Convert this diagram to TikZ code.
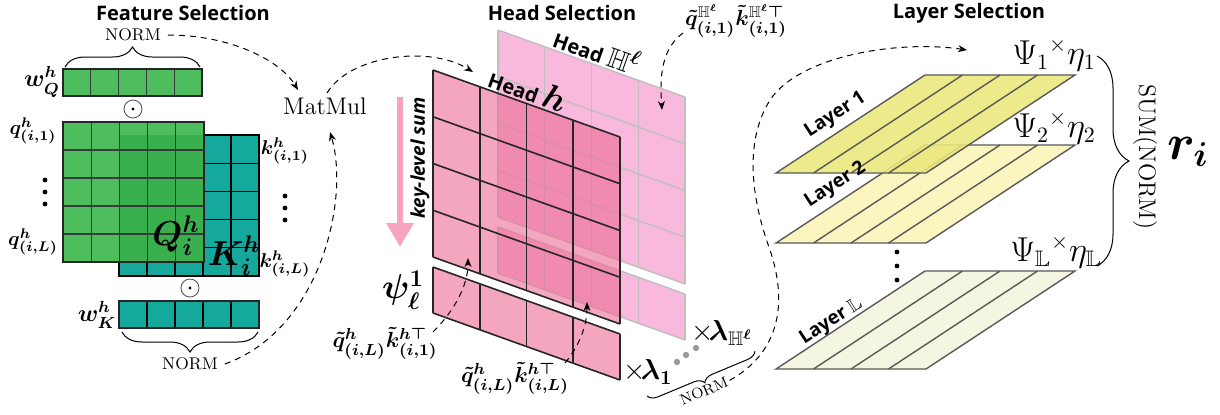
\documentclass[tikz,border=0pt]{standalone}
\usepackage{amsmath,amssymb}
\usepackage{fontspec}
\newfontfamily\osans{Open Sans}
\usetikzlibrary{arrows.meta,decorations.pathreplacing,calc}
\definecolor{qgreen}{HTML}{4DBD5E}
\definecolor{qgreendk}{HTML}{3AAF4E}
\definecolor{kteal}{HTML}{14A99C}
\definecolor{pinkfront}{RGB}{237,107,147}
\definecolor{pinkback}{HTML}{F9B9DD}
\definecolor{pinkarrow}{HTML}{F5A3BE}
\definecolor{lay1}{HTML}{EBE77B}
\definecolor{lay2}{HTML}{FBF5BF}
\definecolor{layL}{HTML}{F5F6E1}
\definecolor{gridq}{HTML}{3A3A3A}
\newcommand\HeadMat[3]{%
\begin{scope}[shift={#1}]
\fill[#2] (0,0)--(187,67)--(187,254)--(0,187)--cycle;
\fill[#2] (0,197)--(187,264)--(187,310)--(0,243)--cycle;
\foreach \i in {0,...,4}{\draw[#3] ({46.75*\i},{16.75*\i}) -- ({46.75*\i},{187+16.75*\i});
 \draw[#3] ({46.75*\i},{197+16.75*\i}) -- ({46.75*\i},{243+16.75*\i});}
\foreach \j in {0,...,4}{\draw[#3] (0,{46.75*\j}) -- (187,{67+46.75*\j});}
\draw[#3] (0,197)--(187,264); \draw[#3] (0,243)--(187,310);
\end{scope}}
\newcommand\LayerPlate[2]{%
\fill[#2] (776,#1) -- (926,#1) -- (1075,{#1-98}) -- (925,{#1-98}) -- cycle;
\foreach \k in {1,2,3} \draw[laygrid] ({776+37.5*\k},#1) -- ({925+37.5*\k},{#1-98});
\draw[laygrid] (776,#1) -- (926,#1) -- (1075,{#1-98}) -- (925,{#1-98}) -- cycle;}
\begin{document}
\begin{tikzpicture}[x=0.5pt,y=-0.5pt,
  dasharr/.style={dash pattern=on 3pt off 2.5pt, line width=0.5pt, -{Stealth[length=4.5pt,width=3.5pt]}},
  titlef/.style={font=\osans\bfseries\fontsize{10}{12}\selectfont},
  normf/.style={font=\fontsize{8.5}{10}\selectfont},
  mlab/.style={font=\fontsize{10}{12}\selectfont},
  bigm/.style={font=\fontsize{18}{20}\selectfont},
  laygrid/.style={draw=black!65, line width=0.7pt},
  gline/.style={draw=gridq, line width=0.6pt},
  kline/.style={draw=black, line width=0.6pt},
  backline/.style={draw=black!25, line width=0.7pt},
  frontline/.style={draw=black!85, line width=0.8pt},
  layf/.style={font=\osans\bfseries\fontsize{9.5}{11}\selectfont}]
\useasboundingbox (0,0) rectangle (1220,414);

% ---------- titles
\node[titlef] (t1) at (183,13) {Feature Selection};
\node[titlef] (t2) at (562,13) {Head Selection};
\node[titlef] (t3) at (969,13) {Layer Selection};

% ---------- Feature selection
\fill[kteal] (119,135) rectangle (259,276);
\foreach \i in {1,...,4}{
  \draw[kline] ({119+28*\i},135) -- ({119+28*\i},276);
  \draw[kline] (119,{135+28.2*\i}) -- (259,{135+28.2*\i});}
\draw[line width=1pt] (119,135) rectangle (259,276);
\fill[qgreen] (63,122) rectangle (204,262);
\fill[qgreendk] (119,135) rectangle (204,262);
\foreach \i in {1,...,4}{
  \draw[gline] ({63+28.2*\i},122) -- ({63+28.2*\i},262);
  \draw[gline] (63,{122+28*\i}) -- (204,{122+28*\i});}
\draw[line width=1pt, draw=black!85] (63,122) rectangle (204,262);
\fill[qgreen] (63,69) rectangle (202,96);
\foreach \i in {1,...,4} \draw[gline] ({63+27.8*\i},69) -- ({63+27.8*\i},96);
\draw[line width=1pt, draw=black!85] (63,69) rectangle (202,96);
\fill[kteal] (119,301) rectangle (259,328);
\foreach \i in {1,...,4} \draw[kline] ({119+28*\i},301) -- ({119+28*\i},328);
\draw[line width=1pt, draw=black!85] (119,301) rectangle (259,328);

\node[font=\fontsize{12}{14}\selectfont] (wq) at (42,82) {$\boldsymbol{w^h_Q}$};
\node[font=\fontsize{12}{14}\selectfont] (wk) at (97,315) {$\boldsymbol{w^h_K}$};
\node[draw=black!70, circle, inner sep=0pt, minimum size=9pt, line width=0.4pt] (od1) at (133,109) {};
\fill (od1.center) circle (0.8pt);
\node[draw=black!70, circle, inner sep=0pt, minimum size=9pt, line width=0.4pt] (od2) at (190,288) {};
\fill (od2.center) circle (0.8pt);

\node[mlab] (q1) at (33,131) {$\boldsymbol{q^h_{(i,1)}}$};
\node[mlab] (qL) at (33,242) {$\boldsymbol{q^h_{(i,L)}}$};
\node[mlab] (k1) at (285,151) {$\boldsymbol{k^h_{(i,1)}}$};
\node[mlab] (kL) at (285,264) {$\boldsymbol{k^h_{(i,L)}}$};
\foreach \y in {180,192,204} \fill (45,\y) circle (1.2pt);
\foreach \y in {196,208,220} \fill (285,\y) circle (1.2pt);
\node[bigm, inner sep=0pt] (Qlab) at (176,236) {$\boldsymbol{Q^h_i}$};
\node[font=\fontsize{17}{19}\selectfont, inner sep=0pt] (Klab) at (234,256) {$\boldsymbol{K^h_i}$};

\draw[decorate, decoration={brace, amplitude=10pt}, line width=0.5pt] (65,67) -- (200,67);
\node[normf] (norm1) at (133,35) {NORM};
\draw[decorate, decoration={brace, amplitude=10pt}, line width=0.5pt] (258,332) -- (122,332);
\node[normf] (norm2) at (190,364) {NORM};

\node[font=\fontsize{12}{14}\selectfont] (matmul) at (325,106) {MatMul};
\coordinate (mmin1) at (298,90);
\coordinate (mmin2) at (330,132);
\coordinate (mmout) at (327,93);
\coordinate (hhin) at (473,72);
\draw[dasharr] (norm1.east) .. controls (230,35) and (280,60) .. (mmin1);
\draw[dasharr] (norm2.east) .. controls (320,330) and (350,200) .. (mmin2);
\draw[dasharr] (mmout) .. controls (350,55) and (430,45) .. (hhin);

% ---------- Head selection
\HeadMat{(498,30)}{pinkback}{backline}
\HeadMat{(433,70)}{pinkfront, fill opacity=0.6}{frontline}

\node[anchor=base west, rotate=-19.7, inner sep=0pt] (headh) at (486,86)
  {\osans\bfseries\fontsize{10}{12}\selectfont Head \fontsize{16}{18}\selectfont$\boldsymbol{h}$};
\node[anchor=base west, rotate=-19.7, inner sep=0pt] (headH) at (551,46)
  {\osans\bfseries\fontsize{10}{12}\selectfont Head \fontsize{14}{16}\selectfont$\mathbb{H}^{\boldsymbol{\ell}}$};

\draw[line width=3pt, pinkarrow, -{Triangle[length=12pt,width=13pt]}] (400,97) -- (400,247);
\node[rotate=90, font=\osans\bfseries\itshape\fontsize{9.5}{11}\selectfont] (kls) at (420,158) {key-level sum};
\node[font=\fontsize{17}{19}\selectfont, inner sep=1pt] (psi) at (403,290) {$\boldsymbol{\psi^1_\ell}$};

\node[font=\fontsize{11}{13}\selectfont, inner sep=0pt] (lab1) at (385,343) {$\boldsymbol{\tilde q^h_{(i,L)}\tilde k^{h\top}_{(i,1)}}$};
\node[font=\fontsize{11}{13}\selectfont, inner sep=0pt] (lab2) at (515,378) {$\boldsymbol{\tilde q^h_{(i,L)}\tilde k^{h\top}_{(i,L)}}$};
\coordinate (c1) at (468,258);
\coordinate (c2) at (587,302);
\draw[dasharr] (433,332) .. controls (455,310) and (468,285) .. (c1);
\draw[dasharr] (565,363) .. controls (580,345) and (587,325) .. (c2);

\node[font=\fontsize{11}{13}\selectfont, inner sep=0pt] (labH) at (736,21) {$\boldsymbol{\tilde q^{\mathbb{H}^\ell}_{(i,1)}\tilde k^{\mathbb{H}^\ell\top}_{(i,1)}}$};
\coordinate (cH) at (662,110);
\draw[dasharr] (683,33) .. controls (660,50) and (660,80) .. (cH);

\node[font=\fontsize{14}{16}\selectfont, inner sep=0pt] (lam1) at (648,372) {$\times\!\boldsymbol{\lambda_1}$};
\node[font=\fontsize{14}{16}\selectfont, inner sep=0pt] (lamH) at (722,333) {$\times\!\boldsymbol{\lambda_{\mathbb{H}^\ell}}$};
\foreach \p in {(677,362),(686,355),(696,348)} \fill[black!40] \p circle (1.6pt);

\draw[decorate, decoration={brace, amplitude=5pt}, line width=0.5pt] (755,351) -- (647,396);
\node[rotate=22.6, font=\fontsize{7.5}{9}\selectfont, inner sep=1pt] (norm3) at (704,391) {NORM};
\coordinate (layin) at (967,50);
\draw[dasharr] (norm3.east) .. controls (775,355) and (790,310) .. (770,250)
  .. controls (750,195) and (745,140) .. (770,100)
  .. controls (800,55) and (900,40) .. (layin);

% ---------- Layer selection
\LayerPlate{369}{layL}
\LayerPlate{243}{lay2}
\LayerPlate{173}{lay1, fill opacity=0.88}
\foreach \y in {252,266,280} \fill (897,\y) circle (1.2pt);

\node[anchor=base west, rotate=33.3, inner sep=0pt, layf] (l1) at (809,138) {Layer 1};
\node[anchor=base west, rotate=33.3, inner sep=0pt, layf] (l2) at (809,208) {Layer 2};
\node[anchor=base west, rotate=33.3, inner sep=0pt, layf] (lL) at (804,345) {Layer $\mathbb{L}$};

\node[font=\fontsize{16}{18}\selectfont, inner sep=0pt] (psi1) at (1054,55) {$\Psi_{1}{}^{\times}\eta_{1}$};
\node[font=\fontsize{16}{18}\selectfont, inner sep=0pt] (psi2) at (1054,128) {$\Psi_{2}{}^{\times}\eta_{2}$};
\node[font=\fontsize{16}{18}\selectfont, inner sep=0pt] (psiL) at (1056,252) {$\Psi_{\mathbb{L}}{}^{\times}\eta_{\mathbb{L}}$};

\draw[decorate, decoration={brace, amplitude=16pt}, line width=0.5pt] (1097,56) -- (1097,266);
\node[rotate=-90, font=\fontsize{12}{14}\selectfont] (sumnorm) at (1145,157) {SUM(NORM)};
\node[font=\fontsize{25}{28}\selectfont] (ri) at (1188,152) {$\boldsymbol{r_i}$};
\end{tikzpicture}
\end{document}
